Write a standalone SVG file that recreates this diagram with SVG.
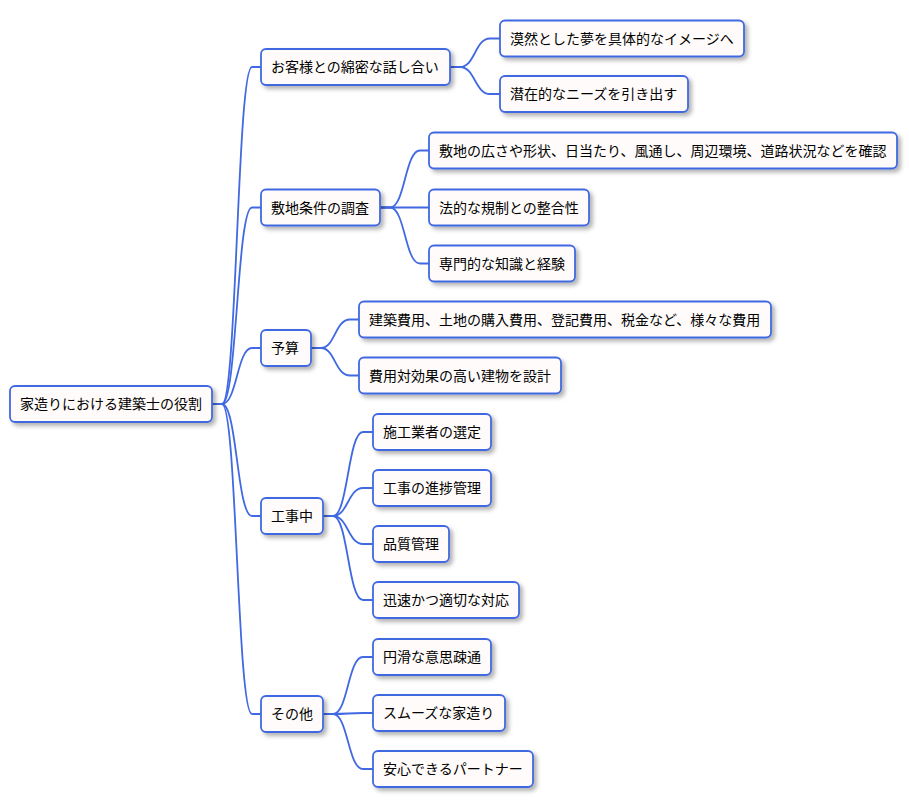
<svg xmlns="http://www.w3.org/2000/svg" width="909" height="809" viewBox="0 0 909 809">
<defs>
<filter id="sh" x="-10%" y="-20%" width="130%" height="160%">
<feDropShadow dx="3" dy="3" stdDeviation="2" flood-color="#000" flood-opacity="0.3"/>
</filter>
<style>
.n rect{fill:#FEFBFA;stroke:#4169E1;stroke-width:1.8;filter:url(#sh)}
.n text{font-family:"Noto Sans CJK JP","Noto Sans CJK SC",sans-serif;font-size:14px;fill:#000}
.c path{fill:none;stroke:#4169E1;stroke-width:1.8}
</style>
</defs>
<rect width="909" height="809" fill="#fff"/>
<g class="c" id="connectors">
<path d="M212,404 h10 C237,404 237,67 252,67 H261"/>
<path d="M212,404 h10 C237,404 237,207.5 252,207.5 H261"/>
<path d="M212,404 h10 C237,404 237,348 252,348 H261"/>
<path d="M212,404 h10 C237,404 237,516 252,516 H261"/>
<path d="M212,404 h10 C237,404 237,714 252,714 H261"/>
<path d="M450,67 h10 C475,67 475,38.5 490,38.5 H500"/>
<path d="M450,67 h10 C475,67 475,94 490,94 H500"/>
<path d="M380,207.5 h10 C405,207.5 405,150.5 420,150.5 H429"/>
<path d="M380,207.5 h10 C405,207.5 405,207.5 420,207.5 H429"/>
<path d="M380,207.5 h10 C405,207.5 405,263.5 420,263.5 H429"/>
<path d="M311,348 h10 C335,348 335,319.5 350,319.5 H359"/>
<path d="M311,348 h10 C335,348 335,375.5 350,375.5 H359"/>
<path d="M323,516 h10 C348,516 348,432 363,432 H373"/>
<path d="M323,516 h10 C348,516 348,488 363,488 H373"/>
<path d="M323,516 h10 C348,516 348,544 363,544 H373"/>
<path d="M323,516 h10 C348,516 348,600 363,600 H373"/>
<path d="M323,714 h10 C348,714 348,657 363,657 H373"/>
<path d="M323,714 h10 C348,714 348,713 363,713 H373"/>
<path d="M323,714 h10 C348,714 348,769 363,769 H373"/>
</g>
<g class="n" id="root"><rect x="10" y="386" width="202" height="36" rx="5"/><text x="20" y="409">家造りにおける建築士の役割</text></g>
<g class="n" id="n1"><rect x="261" y="49" width="189" height="36" rx="5"/><text x="271" y="72">お客様との綿密な話し合い</text></g>
<g class="n" id="n1a"><rect x="500" y="20.5" width="244" height="36" rx="5"/><text x="510" y="43.5">漠然とした夢を具体的なイメージへ</text></g>
<g class="n" id="n1b"><rect x="500" y="76" width="188" height="36" rx="5"/><text x="510" y="99">潜在的なニーズを引き出す</text></g>
<g class="n" id="n2"><rect x="261" y="189.5" width="119" height="36" rx="5"/><text x="271" y="212.5">敷地条件の調査</text></g>
<g class="n" id="n2a"><rect x="429" y="132.5" width="468" height="36" rx="5"/><text x="439" y="155.5">敷地の広さや形状、日当たり、風通し、周辺環境、道路状況などを確認</text></g>
<g class="n" id="n2b"><rect x="429" y="189.5" width="160" height="36" rx="5"/><text x="439" y="212.5">法的な規制との整合性</text></g>
<g class="n" id="n2c"><rect x="429" y="245.5" width="146" height="36" rx="5"/><text x="439" y="268.5">専門的な知識と経験</text></g>
<g class="n" id="n3"><rect x="261" y="330" width="50" height="36" rx="5"/><text x="271" y="353">予算</text></g>
<g class="n" id="n3a"><rect x="359" y="301.5" width="412" height="36" rx="5"/><text x="369" y="324.5">建築費用、土地の購入費用、登記費用、税金など、様々な費用</text></g>
<g class="n" id="n3b"><rect x="359" y="357.5" width="202" height="36" rx="5"/><text x="369" y="380.5">費用対効果の高い建物を設計</text></g>
<g class="n" id="n4"><rect x="261" y="498" width="62" height="36" rx="5"/><text x="271" y="521">工事中</text></g>
<g class="n" id="n4a"><rect x="373" y="414" width="118" height="36" rx="5"/><text x="383" y="437">施工業者の選定</text></g>
<g class="n" id="n4b"><rect x="373" y="470" width="118" height="36" rx="5"/><text x="383" y="493">工事の進捗管理</text></g>
<g class="n" id="n4c"><rect x="373" y="526" width="76" height="36" rx="5"/><text x="383" y="549">品質管理</text></g>
<g class="n" id="n4d"><rect x="373" y="582" width="146" height="36" rx="5"/><text x="383" y="605">迅速かつ適切な対応</text></g>
<g class="n" id="n5"><rect x="261" y="696" width="62" height="36" rx="5"/><text x="271" y="719">その他</text></g>
<g class="n" id="n5a"><rect x="373" y="639" width="118" height="36" rx="5"/><text x="383" y="662">円滑な意思疎通</text></g>
<g class="n" id="n5b"><rect x="373" y="695" width="132" height="36" rx="5"/><text x="383" y="718">スムーズな家造り</text></g>
<g class="n" id="n5c"><rect x="373" y="751" width="160" height="36" rx="5"/><text x="383" y="774">安心できるパートナー</text></g>
</svg>
